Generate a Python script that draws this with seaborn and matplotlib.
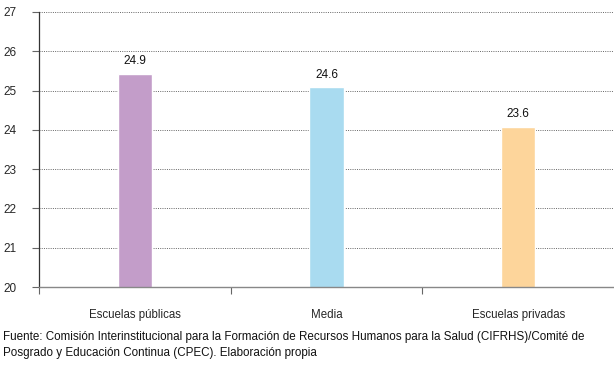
import matplotlib
matplotlib.use("Agg")
import matplotlib.pyplot as plt
import seaborn as sns

# data (bar heights as drawn, labels as printed)
categorias = ["Escuelas públicas", "Media", "Escuelas privadas"]
valores = [25.43, 25.08, 24.08]
etiquetas = ["24.9", "24.6", "23.6"]
colores = ["#C39DC9", "#A9DBF0", "#FDD59B"]
yticks = [20, 21, 22, 23, 24, 25, 26, 27]

sns.set_style("white")
plt.rcParams["font.family"] = ["Liberation Sans", "DejaVu Sans"]

fig = plt.figure(figsize=(6.14, 3.65), dpi=100)
ax = fig.add_axes([39 / 614, 1 - 287 / 365, 1 - 39 / 614, 275 / 365])

sns.barplot(x=categorias, y=valores, hue=categorias, palette=colores,
            width=0.18, legend=False, saturation=1, ax=ax)

ax.set_ylim(20, 27)
ax.set_xlim(-0.5, 2.5)
ax.set_yticks(yticks)
for y in yticks[1:]:
    ax.axhline(y, color="#666666", lw=0.7, ls=(0, (1, 1.3)), zorder=0)

for i, (v, t) in enumerate(zip(valores, etiquetas)):
    ax.text(i, v + 0.17, t, ha="center", va="bottom", fontsize=8.5, color="#111111")

# category separators below the axis
ax.set_xticks([-0.5, 0.5, 1.5], minor=True)
ax.tick_params(axis="x", which="minor", bottom=True, length=5, width=0.8,
               color="#666666", direction="out")
ax.tick_params(axis="x", which="major", bottom=False, length=0, labelsize=8.3, pad=16)
ax.tick_params(axis="y", left=True, length=5, width=0.8, color="#666666",
               labelsize=8.5, pad=11.5)

for s in ["top", "right"]:
    ax.spines[s].set_visible(False)
ax.spines["left"].set_color("#333333")
ax.spines["left"].set_linewidth(0.9)
ax.spines["bottom"].set_color("#888888")
ax.spines["bottom"].set_linewidth(1.0)

fig.text(3 / 614, 1 - 337 / 365,
         "Fuente: Comisión Interinstitucional para la Formación de Recursos Humanos para la Salud (CIFRHS)/Comité de",
         ha="left", va="center", fontsize=8.4, color="#111111")
fig.text(3 / 614, 1 - 353 / 365,
         "Posgrado y Educación Continua (CPEC). Elaboración propia",
         ha="left", va="center", fontsize=8.4, color="#111111")

fig.savefig("out.png", dpi=100)
